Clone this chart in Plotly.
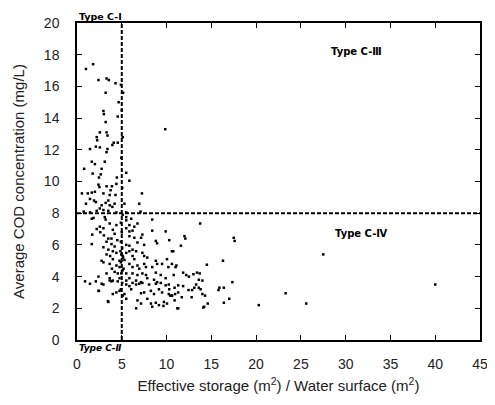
import plotly.graph_objects as go

# ---- data ----
pts = [
    (1.8,17.4),(1.0,17.1),(2.4,16.4),(3.3,16.5),(3.55,16.4),(4.3,16.2),(5.15,15.6),(3.2,15.6),(4.65,15.0),
    (2.95,14.45),(3.0,14.25),(4.55,14.1),(3.2,13.75),(9.85,13.3),
    (2.55,13.1),(3.3,13.1),(3.4,12.9),(2.2,12.8),(2.25,12.6),(4.1,12.45),(4.55,12.45),(3.95,12.3),(2.1,12.2),
    (2.55,12.15),(1.45,12.05),(3.4,12.05),(3.3,11.85),(3.1,11.25),(1.65,11.25),(2.0,11.1),(0.8,10.8),(2.75,10.8),
    (1.75,10.5),(2.65,10.45),(5.5,10.55),(2.45,10.25),(4.45,10.25),(2.4,9.8),(2.5,9.65),(3.9,9.7),(3.3,9.7),
    (5.85,10.05),(4.4,9.85),(3.75,9.45),(0.55,9.25),(1.2,9.25),(1.65,9.3),(2.0,9.35),(3.65,9.15),(2.95,9.25),
    (7.25,9.25),(4.3,9.15),(1.45,8.9),(1.0,8.6),(1.9,8.8),(2.1,8.7),(3.5,8.8),(3.2,8.65),(3.65,8.5),(2.75,8.5),
    (4.2,8.6),(5.3,8.6),(6.95,8.6),(2.55,8.3),(2.95,8.2),(2.2,8.15),(3.95,8.4),(0.75,8.1),(1.45,8.05),(3.5,8.15),
    (4.4,8.05),(5.5,8.05),(5.1,7.9),(7.1,8.1),
    (1.65,7.65),(1.85,7.7),(3.1,7.75),(3.2,7.6),(5.5,7.75),(5.5,7.55),(6.05,7.65),(8.4,7.6),(3.65,7.35),
    (2.55,7.15),(2.95,7.05),(4.4,7.25),(5.85,7.25),(6.4,7.15),(6.75,7.35),(4.0,6.95),(5.5,7.05),(5.85,6.85),
    (6.2,6.9),(8.4,6.9),(9.9,6.85),(3.5,6.4),(3.85,6.4),(5.85,6.55),(6.4,6.45),(7.15,6.45),(7.3,6.65),(8.8,6.25),
    (8.95,6.1),(1.65,6.05),(2.95,5.85),(3.85,6.05),(5.5,6.0),(5.85,5.95),(6.75,6.15),(7.5,6.0),(10.6,5.6),
    (3.5,5.7),(4.0,5.6),(4.4,5.5),(3.3,5.4),(5.5,5.5),(5.85,5.6),(6.2,5.7),(6.6,5.6),(7.3,5.5),(4.95,5.4),
    (5.1,5.3),(4.75,5.0),(5.3,5.05),(6.2,5.3),(6.4,5.1),(7.5,5.3),(7.85,5.2),(8.8,5.0),(10.05,5.1),(9.5,4.8),
    (2.75,5.0),(2.95,4.9),(4.0,5.1),(3.65,4.8),(4.4,4.7),(4.75,4.6),(5.85,4.8),(6.2,4.6),(6.75,4.7),(6.95,4.5),
    (7.5,4.8),(7.7,4.6),(8.4,4.6),(8.95,4.8),(10.6,4.8),(4.2,4.3),(4.55,4.2),(5.1,4.4),(5.5,4.2),(6.2,4.2),
    (6.75,4.1),(7.3,4.2),(7.7,4.1),(8.8,4.25),(9.35,4.1),(3.65,3.9),(4.0,3.75),(4.75,3.9),(5.5,3.75),(5.85,3.9),
    (6.6,3.75),(7.15,3.65),(7.85,3.9),(8.6,3.8),(8.95,3.65),(9.9,3.9),(10.8,4.1),(1.45,3.55),
    (0.9,3.7),(2.75,3.55),(2.95,3.5),(3.65,3.75),(3.85,3.7),(4.55,3.7),(5.5,3.5),(5.85,3.4),(6.2,3.6),(6.6,3.5),
    (6.95,3.55),(7.3,3.6),(8.05,3.5),(8.8,3.55),(9.35,3.6),(9.9,3.45),(10.25,3.5),(2.4,3.1),(4.0,2.9),(4.4,3.0),
    (4.75,3.1),(5.3,2.9),(6.05,3.2),(7.15,2.95),(7.5,3.0),(8.25,3.1),(8.6,2.9),(9.15,3.2),(9.5,3.0),(10.25,2.9),
    (10.6,2.8),(5.5,2.6),(6.75,2.5),(7.15,2.3),(7.85,2.6),(8.25,2.3),(8.8,2.35),(9.15,2.2),(9.7,2.4),(10.05,2.3),
    (6.6,2.0),(3.5,2.4),(1.7,6.65),(2.45,3.1),(3.45,2.45),(8.4,2.1),(9.65,2.15),(11.3,2.0),(14.2,2.1),(12.0,6.55),
    (13.7,4.2),
    (13.75,7.35),(10.3,6.3),(12.1,6.4),(17.5,6.45),(17.6,6.25),(11.6,5.95),(10.75,5.6),(14.5,4.75),(16.3,5.0),
    (11.1,4.7),(11.0,4.6),(10.2,4.6),(11.85,4.25),(12.2,4.1),(12.5,4.0),(13.0,4.15),(13.4,4.25),(13.6,3.8),
    (14.0,3.75),(13.3,3.5),(11.3,3.45),(10.9,3.3),(11.85,3.4),(12.45,3.15),(12.85,3.15),(13.6,3.3),(13.8,3.2),
    (13.1,3.3),(10.3,3.2),(11.3,3.0),(10.95,2.9),(10.6,2.8),(10.4,2.8),(11.7,2.7),(10.9,2.5),(14.0,2.9),(12.8,2.7),
    (14.3,2.8),(15.9,3.3),(15.8,3.15),(16.4,3.3),(17.35,3.65),(17.0,2.6),(16.4,2.35),(14.6,2.3),(14.1,2.05),
    (11.2,2.0),(20.3,2.2),(23.3,2.95),(27.5,5.4),(25.6,2.3),(40.0,3.5),
    (4.9,6.2),(5.05,5.8),(4.85,5.6),(5.15,5.2),(4.9,4.9),(5.2,4.5),(4.95,4.2),(5.05,3.6),(4.9,3.2),(5.1,2.8),
    (5.0,6.8),(4.9,7.4),(5.05,9.6),(4.95,11.5),(5.1,12.8),(5.0,14.5),(4.9,16.1),
    (2.2,7.0),(2.6,6.8),(3.0,6.6),(3.3,6.2),(3.7,5.3),(4.2,5.9),(4.5,6.3),(4.2,6.7),(3.9,4.5),(3.3,4.2),
    (2.4,4.0),(2.1,3.7),
]
storage_ratio = [p[0] for p in pts]
cod = [p[1] for p in pts]

x_threshold = 5
y_threshold = 8
x_ticks = [0, 5, 10, 15, 20, 25, 30, 35, 40, 45]
y_ticks = [0, 2, 4, 6, 8, 10, 12, 14, 16, 18, 20]

FONT = "Liberation Sans, Arial, sans-serif"
LABFONT = "DejaVu Sans, sans-serif"

fig = go.Figure()
fig.add_trace(go.Scatter(
    x=storage_ratio, y=cod, mode="markers",
    marker=dict(symbol="square", size=2.5, color="black", line=dict(width=0)),
    showlegend=False, cliponaxis=False,
))

fig.add_shape(type="line", x0=x_threshold, x1=x_threshold, y0=0, y1=20,
              line=dict(color="black", width=2, dash="4px,2px"))
fig.add_shape(type="line", x0=0, x1=45, y0=y_threshold, y1=y_threshold,
              line=dict(color="black", width=2, dash="4px,2px"))

fig.add_annotation(x=0, y=20, xref="x", yref="y", text="<b>Type C-Ⅰ</b>",
                   showarrow=False, xanchor="left", yanchor="bottom",
                   font=dict(family=LABFONT, size=9.5, color="black"), yshift=-1)
fig.add_annotation(x=0, y=0, xref="x", yref="y", text="<b><i>Type C-Ⅱ</i></b>",
                   showarrow=False, xanchor="left", yanchor="top",
                   font=dict(family=LABFONT, size=9, color="black"), yshift=-1)
fig.add_annotation(x=31.2, y=18.2, xref="x", yref="y", text="<b>Type C-Ⅲ</b>",
                   showarrow=False, font=dict(family=LABFONT, size=10, color="black"))
fig.add_annotation(x=31.7, y=6.75, xref="x", yref="y", text="<b>Type C-Ⅳ</b>",
                   showarrow=False, font=dict(family=LABFONT, size=10, color="black"))

axis_common = dict(showgrid=False, zeroline=False, showline=True, linecolor="black",
                   linewidth=1.5, ticks="inside", ticklen=5, tickcolor="black",
                   tickfont=dict(family=FONT, size=14, color="#222"))

fig.update_xaxes(range=[0, 45], tickvals=x_ticks, mirror="ticks",
                 ticklabelstandoff=10,
                 title=dict(text="Effective storage (m<sup>2</sup>) / Water surface (m<sup>2</sup>)",
                            font=dict(family=FONT, size=15, color="#222"), standoff=10),
                 **axis_common)
fig.update_yaxes(range=[0, 20], tickvals=y_ticks, mirror="ticks",
                 ticklabelstandoff=13,
                 title=dict(text="Average COD concentration (mg/L)",
                            font=dict(family=FONT, size=15, color="#222"), standoff=16),
                 **axis_common)

# page has an 8px body margin, so the figure is sized to fit the remaining window
fig.update_layout(width=487, height=397, margin=dict(l=69, r=10, t=7, b=65),
                  plot_bgcolor="white", paper_bgcolor="white")

fig.write_html("out.html")
